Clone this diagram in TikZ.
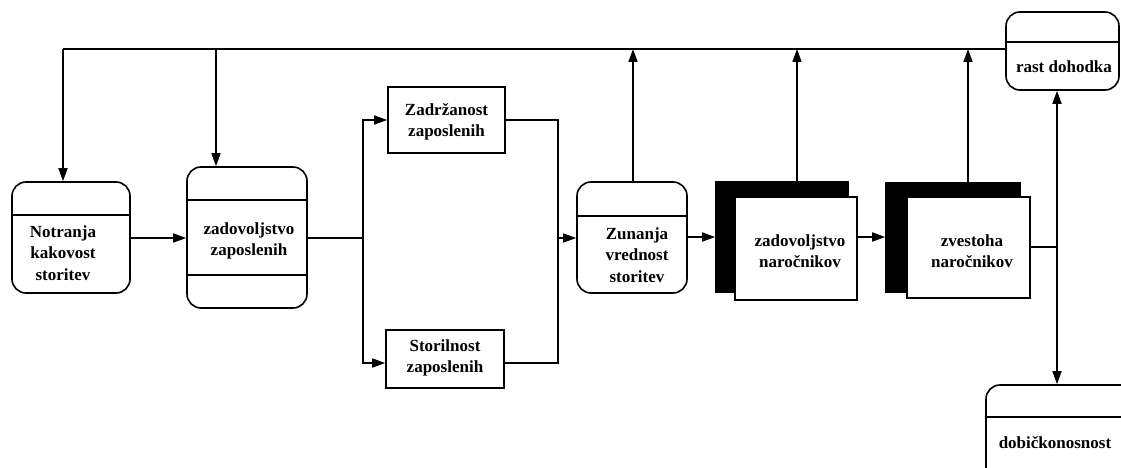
\documentclass[tikz,border=0pt]{standalone}
\usepackage{fontspec}
\setmainfont{Liberation Serif}
\usetikzlibrary{arrows.meta,calc}
\begin{document}
\begin{tikzpicture}[x=1pt,y=-1pt,
  line width=1.6pt,
  arr/.style={-{Triangle[length=13pt,width=9pt]}},
  darr/.style={{Triangle[length=13pt,width=9pt]}-{Triangle[length=13pt,width=9pt]}},
  rbox/.style={draw, rounded corners=14pt, inner sep=0pt},
  sbox/.style={draw, inner sep=0pt},
  shadowbox/.style={fill=black, draw, inner sep=0pt},
  frontbox/.style={fill=white, draw, inner sep=0pt},
  txt/.style={font=\fontsize{17}{21.5}\selectfont\bfseries, align=center, inner sep=0pt}]
\useasboundingbox (0,0) rectangle (1121,468);
\clip (0,0) rectangle (1121,468);

% rounded boxes
\node[rbox, minimum width=118pt, minimum height=111pt] (n1) at (71,237.5) {};
\draw (n1.west |- 0,215) -- (n1.east |- 0,215);
\node[txt] (t1) at (63,253) {Notranja\\kakovost\\storitev};

\node[rbox, minimum width=120pt, minimum height=141pt] (n2) at (247,237.5) {};
\draw (n2.west |- 0,200) -- (n2.east |- 0,200);
\draw (n2.west |- 0,275) -- (n2.east |- 0,275);
\node[txt] (t2) at (249,241) {zadovoljstvo\\zaposlenih};

\node[sbox, minimum width=117pt, minimum height=66pt] (zd) at (446.5,120) {};
\node[txt] (t3) at (446.5,122) {Zadržanost\\zaposlenih};

\node[sbox, minimum width=118pt, minimum height=58pt] (st) at (445,359) {};
\node[txt] (t4) at (445,358) {Storilnost\\zaposlenih};

\node[rbox, minimum width=110pt, minimum height=111pt] (zu) at (632,237.5) {};
\draw (zu.west |- 0,216) -- (zu.east |- 0,216);
\node[txt] (t5) at (637,255) {Zunanja\\vrednost\\storitev};

\node[shadowbox, minimum width=132pt, minimum height=110pt] (zns) at (782,237) {};
\node[frontbox, minimum width=122pt, minimum height=103pt] (zn) at (796,248.5) {};
\node[txt] (t6) at (800,251) {zadovoljstvo\\naročnikov};

\node[shadowbox, minimum width=134pt, minimum height=109pt] (zvs) at (953,237.5) {};
\node[frontbox, minimum width=123pt, minimum height=101pt] (zv) at (968.5,247.5) {};
\node[txt] (t7) at (972,251) {zvestoha\\naročnikov};

\node[rbox, minimum width=113pt, minimum height=78pt] (rd) at (1062.5,51) {};
\draw (rd.west |- 0,42) -- (rd.east |- 0,42);
\node[txt] (t8) at (1064,67) {rast dohodka};

\node[rbox, minimum width=150pt, minimum height=110pt] (db) at (1061,440) {};
\draw (db.west |- 0,417) -- (db.east |- 0,417);
\node[txt] (t9) at (1055,443) {dobičkonosnost};

% top feedback line
\coordinate (a1) at (63,49);
\coordinate (a2) at (216,49);
\coordinate (a3) at (633,49);
\coordinate (a4) at (797,49);
\coordinate (a5) at (968,49);
\draw (a1) -- (a1 -| rd.west);
\draw[arr] (a1) -- (a1 |- n1.north);
\draw[arr] (a2) -- (a2 |- n2.north);
\draw[arr] (a3 |- zu.north) -- (a3);
\draw[arr] (a4 |- zns.north) -- (a4);
\draw[arr] (a5 |- zvs.north) -- (a5);

% main flow
\draw[arr] (n1.east |- 0,238) -- (n2.west |- 0,238);
\coordinate (s1) at (363,238);
\draw (n2.east |- s1) -- (s1);
\draw[arr] (s1) -- (s1 |- zd.west) -- (zd.west);
\draw[arr] (s1) -- (s1 |- 0,363) -- (st.west |- 0,363);
\coordinate (s2) at (558,238);
\draw (zd.east) -- (s2 |- zd.east) -- (s2);
\draw (st.east |- 0,363) -- (s2 |- 0,363) -- (s2);
\draw[arr] (s2) -- (zu.west |- s2);
\draw[arr] (zu.east |- 0,237) -- (zns.west |- 0,237);
\draw[arr] (zn.east |- 0,237) -- (zvs.west |- 0,237);
\coordinate (s3) at (1057,247);
\draw (zv.east |- s3) -- (s3);
\draw[darr] (s3 |- rd.south) -- (s3 |- db.north);
\end{tikzpicture}
\end{document}
